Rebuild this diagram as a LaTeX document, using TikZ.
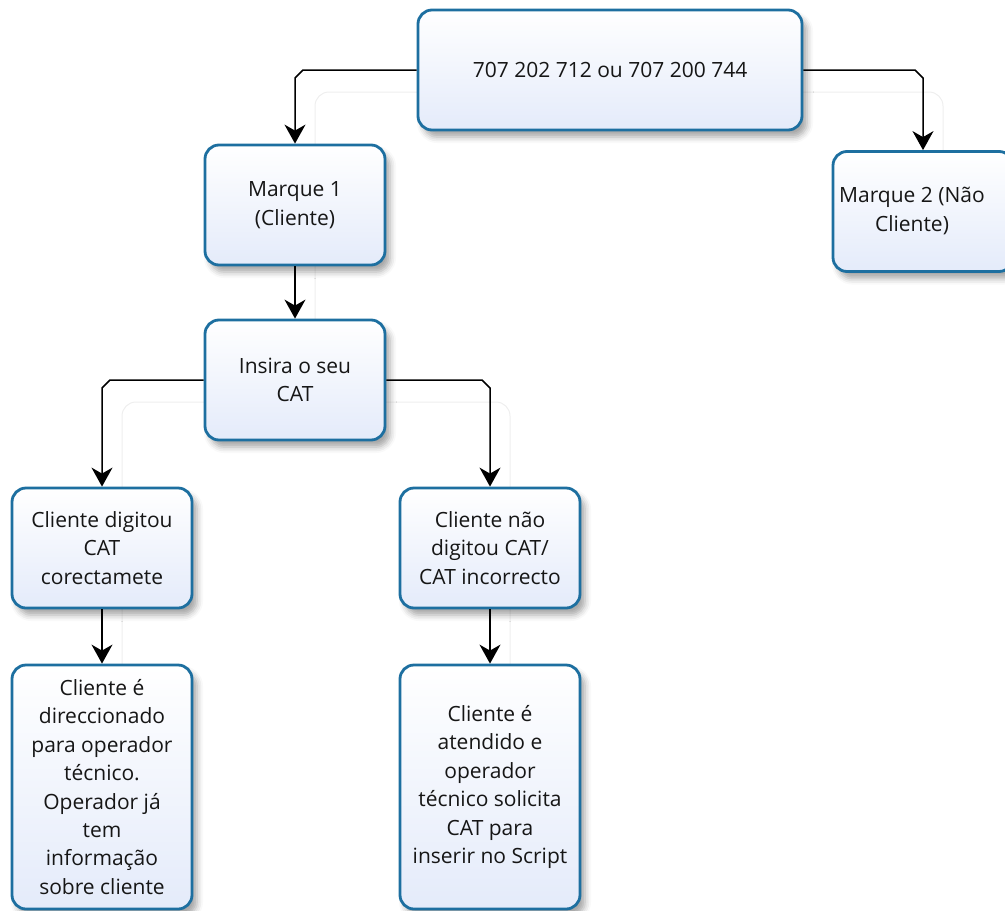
\documentclass[tikz,border=0pt]{standalone}
\usepackage{fontspec}
\setmainfont{Open Sans}
\usetikzlibrary{arrows.meta,shadows.blur,calc}

\definecolor{boxedge}{HTML}{1D6FA0}
\definecolor{boxfill}{HTML}{E4EBFA}
\definecolor{ghost}{HTML}{EEEEEE}
\definecolor{ink}{HTML}{161616}

\tikzset{
  stepbox/.style={draw=boxedge, line width=2.8pt, rounded corners=14pt,
    top color=white, bottom color=boxfill,
    blur shadow={shadow xshift=5pt, shadow yshift=-7pt,
                 shadow blur radius=6pt, shadow opacity=35},
    align=center, text=ink, inner sep=0pt,
    font=\fontsize{21}{28.4}\selectfont,
    minimum width=180pt, minimum height=120pt},
  link/.style={line width=1.5pt, draw=black,
    -{Stealth[length=19pt,width=21pt,inset=6pt]}},
  frame/.style={draw=ghost, line width=1pt, rounded corners=14pt}
}

\begin{document}
\begin{tikzpicture}[x=1pt,y=-1pt]
  \useasboundingbox (0,0) rectangle (1005,911);
  \clip (0,0) rectangle (1005,911);

  % faint layout frames behind the groups
  \draw[frame] (315,330) -- (315,92) -- (943,92) -- (943,170);
  \draw[frame] (122,675) -- (122,402) -- (510,402) -- (510,675);

  % steps
  \node[stepbox, minimum width=384pt] (tel) at (610,70) {707 202 712 ou 707 200 744};
  \node[stepbox] (m1) at (295,205) {Marque 1\\(Cliente)};
  \node[stepbox] (m2) at (923,211.5) {\begin{tabular}{@{}c@{}}Marque 2 (Não\\Cliente)\end{tabular}\hspace*{22pt}};
  \node[stepbox] (ins) at (295,380) {Insira o seu\\CAT};
  \node[stepbox] (cd) at (102,548) {Cliente digitou\\CAT\\corectamete};
  \node[stepbox] (cn) at (490,548) {Cliente não\\digitou CAT/\\CAT incorrecto};
  \node[stepbox, minimum height=244pt] (dl) at (102,787) {Cliente é\\direccionado\\para operador\\técnico.\\Operador já\\tem\\informação\\sobre cliente};
  \node[stepbox, minimum height=244pt] (dr) at (490,787) {Cliente é\\atendido e\\operador\\técnico solicita\\CAT para\\inserir no Script};

  % connectors with chamfered elbows
  \draw[link] (tel.west) -- ($(m1.north|-tel.west)+(8,0)$) -- ($(m1.north|-tel.west)+(0,8)$) -- (m1.north);
  \draw[link] (tel.east) -- ($(m2.north|-tel.east)+(-8,0)$) -- ($(m2.north|-tel.east)+(0,8)$) -- (m2.north);
  \draw[link] (m1) -- (ins);
  \draw[link] (ins.west) -- ($(cd.north|-ins.west)+(8,0)$) -- ($(cd.north|-ins.west)+(0,8)$) -- (cd.north);
  \draw[link] (ins.east) -- ($(cn.north|-ins.east)+(-8,0)$) -- ($(cn.north|-ins.east)+(0,8)$) -- (cn.north);
  \draw[link] (cd) -- (dl);
  \draw[link] (cn) -- (dr);
\end{tikzpicture}
\end{document}
